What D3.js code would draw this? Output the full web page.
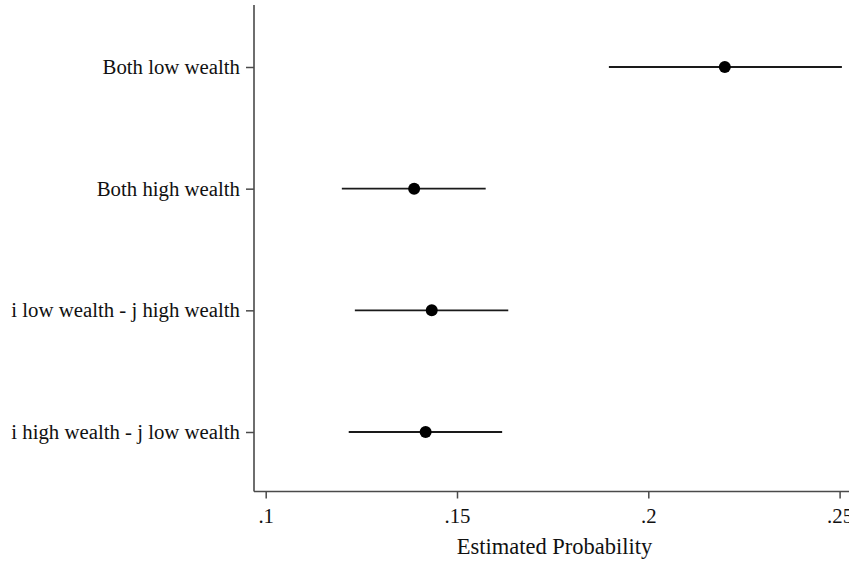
<!DOCTYPE html>
<html>
<head>
<meta charset="utf-8">
<script src="https://cdn.jsdelivr.net/npm/d3@7"></script>
<style>
  html, body { margin: 0; padding: 0; background: #fff; }
  svg { display: block; }
  text { font-family: "Liberation Serif", "DejaVu Serif", serif; fill: #111; }
</style>
</head>
<body>
<svg id="chart" width="849" height="562"></svg>
<script>
// Groups, point estimates and 95% confidence bounds
const categories = ["Both low wealth", "Both high wealth", "i low wealth - j high wealth", "i high wealth - j low wealth"];
const estimates = [0.2200, 0.1388, 0.1434, 0.1418];
const lower     = [0.1897, 0.1199, 0.1233, 0.1217];
const upper     = [0.2506, 0.1575, 0.1634, 0.1618];
const xTicks    = [0.10, 0.15, 0.20, 0.25];
const xTickLabels = [".1", ".15", ".2", ".25"];
const xTitle = "Estimated Probability";

const svg = d3.select("#chart");
const W = 849, H = 562;
const plot = { left: 254, top: 5, bottom: 491.5 };

const x = d3.scaleLinear().domain([0.1, 0.2]).range([265.7, 648.3]);
const xMax = x.invert(W + 40);

const y = d3.scalePoint().domain(categories).range([67, 432]);

const axisColor = "#4a4a4a";
const fontSize = "20.8px";

// X axis
const xAxis = d3.axisBottom(x)
  .tickValues(xTicks)
  .tickFormat((d, i) => xTickLabels[i])
  .tickSizeInner(7).tickSizeOuter(0).tickPadding(10);
const gx = svg.append("g").attr("transform", `translate(0,${plot.bottom})`).call(xAxis);
gx.select(".domain").remove();
gx.append("line").attr("x1", plot.left).attr("x2", x(xMax)).attr("y1", 0).attr("y2", 0)
  .attr("stroke", axisColor).attr("stroke-width", 1.6);
gx.selectAll(".tick line").attr("stroke", axisColor).attr("stroke-width", 1.5);
gx.selectAll(".tick text").attr("font-size", fontSize).attr("fill", "#111")
  .style("font-family", "'Liberation Serif', serif");

// Y axis
const yAxis = d3.axisLeft(y).tickSizeInner(8).tickSizeOuter(0).tickPadding(6);
const gy = svg.append("g").attr("transform", `translate(${plot.left},0)`).call(yAxis);
gy.select(".domain").remove();
gy.append("line").attr("x1", 0).attr("x2", 0).attr("y1", plot.top).attr("y2", plot.bottom)
  .attr("stroke", axisColor).attr("stroke-width", 1.6);
gy.selectAll(".tick line").attr("stroke", axisColor).attr("stroke-width", 1.5);
gy.selectAll(".tick text").attr("font-size", fontSize).attr("fill", "#111")
  .style("font-family", "'Liberation Serif', serif");

// Axis title
svg.append("text")
  .attr("x", 554.5).attr("y", 554)
  .attr("text-anchor", "middle")
  .attr("font-size", "22.5px")
  .text(xTitle);

// Confidence intervals
const rows = categories.map((c, i) => ({ c, est: estimates[i], lo: lower[i], hi: upper[i] }));
svg.append("g").selectAll("line").data(rows).join("line")
  .attr("x1", d => x(d.lo)).attr("x2", d => x(d.hi))
  .attr("y1", d => y(d.c)).attr("y2", d => y(d.c))
  .attr("stroke", "#1a1a1a").attr("stroke-width", 1.8);

// Point estimates
svg.append("g").selectAll("circle").data(rows).join("circle")
  .attr("cx", d => x(d.est)).attr("cy", d => y(d.c))
  .attr("r", 6).attr("fill", "#000");
</script>
</body>
</html>
